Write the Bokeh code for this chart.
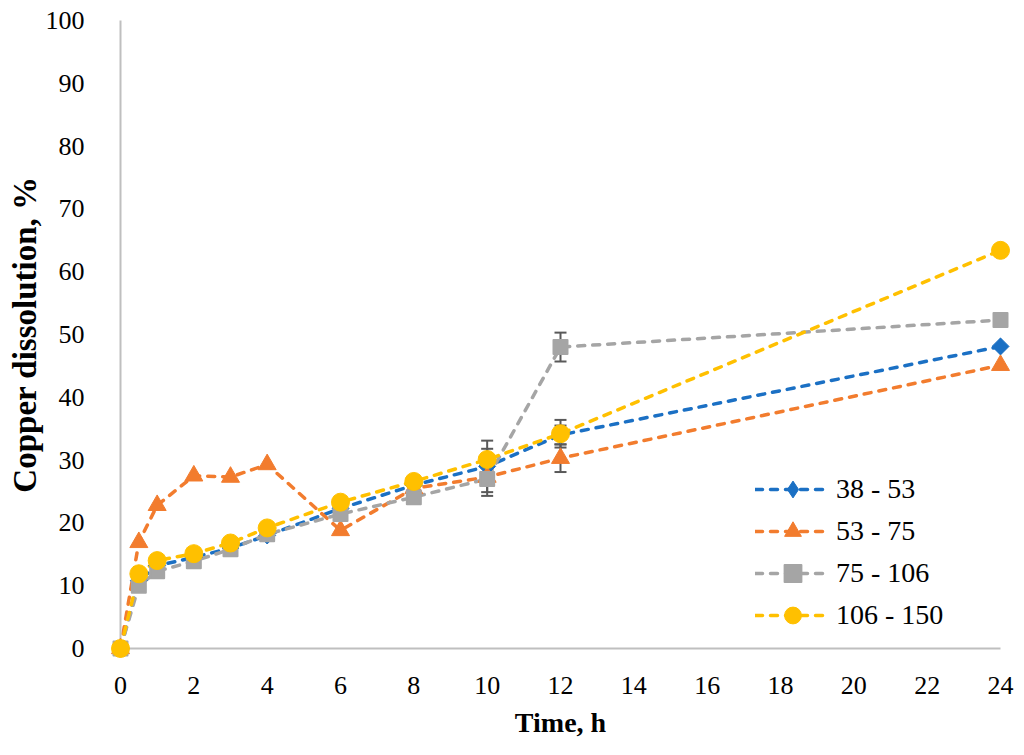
import math
from bokeh.plotting import figure
from bokeh.models import (ColumnDataSource, FixedTicker, Legend, LegendItem,
                          Whisker, TeeHead)
from bokeh.embed import file_html
from bokeh.resources import INLINE

# ---------------- data ----------------
time_h = [0, 0.5, 1, 2, 3, 4, 6, 8, 10, 12, 24]
series_names = ["38 - 53", "53 - 75", "75 - 106", "106 - 150"]
s38_53 = [0, 10.8, 13.2, 14.5, 16.0, 18.0, 22.3, 26.0, 29.0, 34.0, 48.1]
s53_75 = [0, 16.9, 22.8, 27.5, 27.3, 29.3, 18.8, 25.5, 27.3, 30.3, 45.1]
s75_106 = [0, 10.0, 12.3, 13.9, 15.8, 18.2, 21.4, 24.1, 27.0, 48.0, 52.3]
s106_150 = [0, 11.9, 14.0, 15.1, 16.8, 19.2, 23.3, 26.6, 30.1, 34.2, 63.4]
e38_53 = [0, 0, 0, 0, 0, 0, 0, 0, 2.8, 1.5, 0]
e53_75 = [0, 0, 0, 0, 0, 0, 0, 0, 2.4, 2.2, 0]
e75_106 = [0, 0, 0, 0, 0, 0, 0, 0, 2.7, 2.3, 0]
e106_150 = [0, 0, 0, 0, 0, 0, 0, 0, 3.0, 2.2, 0]
x_ticks = [0, 2, 4, 6, 8, 10, 12, 14, 16, 18, 20, 22, 24]
y_ticks = [0, 10, 20, 30, 40, 50, 60, 70, 80, 90, 100]

colors = ["#1B70C4", "#F27C2E", "#A5A5A5", "#FFC000"]
values = [s38_53, s53_75, s75_106, s106_150]
errors = [e38_53, e53_75, e75_106, e106_150]

FONT = "Liberation Serif"

p = figure(width=1016, height=748, x_range=(0, 24), y_range=(0, 100),
           output_backend="svg", toolbar_location=None,
           min_border_left=120, min_border_right=16,
           min_border_top=20, min_border_bottom=100)
p.outline_line_color = None
p.xgrid.visible = False
p.ygrid.visible = False
p.background_fill_color = "white"
p.border_fill_color = "white"

for ax in (p.xaxis[0], p.yaxis[0]):
    ax.axis_line_color = "#BFBFBF"
    ax.axis_line_width = 2
    ax.major_tick_line_color = None
    ax.minor_tick_line_color = None
    ax.major_label_text_font = FONT
    ax.major_label_text_font_size = "26px"
    ax.major_label_text_color = "black"
    ax.axis_label_text_font = FONT
    ax.axis_label_text_font_style = "bold"
    ax.axis_label_text_color = "black"

p.xaxis.ticker = FixedTicker(ticks=x_ticks)
p.yaxis.ticker = FixedTicker(ticks=y_ticks)
p.xaxis.axis_label = "Time, h"
p.yaxis.axis_label = "Copper dissolution, %"
p.xaxis.axis_label_text_font_size = "28px"
p.yaxis.axis_label_text_font_size = "33px"
p.xaxis.major_label_standoff = 22
p.yaxis.major_label_standoff = 30
p.xaxis.axis_label_standoff = 10
p.yaxis.axis_label_standoff = 0

# error bars
for vals, errs in zip(values, errors):
    xs = [t for t, e in zip(time_h, errs) if e > 0]
    up = [v + e for v, e in zip(vals, errs) if e > 0]
    lo = [v - e for v, e in zip(vals, errs) if e > 0]
    src = ColumnDataSource(dict(x=xs, upper=up, lower=lo))
    w = Whisker(base="x", upper="upper", lower="lower", source=src,
                line_color="#595959", line_width=2,
                upper_head=TeeHead(size=12, line_color="#595959", line_width=2),
                lower_head=TeeHead(size=12, line_color="#595959", line_width=2))
    p.add_layout(w)

items = []
for i, (name, vals, col) in enumerate(zip(series_names, values, colors)):
    src = ColumnDataSource(dict(x=time_h, y=vals))
    ln = p.line("x", "y", source=src, line_color=col, line_width=3.5,
                line_dash="7 8", line_cap="round")
    if i == 0:
        # diamond for the legend; the rotated square drawn above covers it
        leg = p.scatter("x", "y", source=src, marker="diamond", size=16,
                        fill_color=col, line_color=col, level="overlay")
        p.scatter("x", "y", source=src, marker="square", size=12,
                  angle=math.pi / 4, fill_color=col, line_color=col,
                  level="overlay")
    elif i == 1:
        leg = p.scatter("x", "y", source=src, marker="triangle", size=18,
                        fill_color=col, line_color=col, level="overlay")
    elif i == 2:
        leg = p.scatter("x", "y", source=src, marker="square", size=14,
                        fill_color=col, line_color=col, line_width=2,
                        line_join="round", level="overlay")
    else:
        leg = p.scatter("x", "y", source=src, marker="circle", size=18,
                        fill_color=col, line_color=col, level="overlay")
    items.append(LegendItem(label=name, renderers=[ln, leg]))

legend = Legend(items=items, location=(635, 12), orientation="vertical",
                label_text_font=FONT, label_text_font_size="28px",
                label_text_color="black", glyph_width=75, glyph_height=42,
                label_height=42, spacing=0, label_standoff=6,
                padding=0, margin=0, border_line_color=None,
                background_fill_alpha=0)
p.add_layout(legend, "center")

open("out.html", "w").write(file_html(p, INLINE))
